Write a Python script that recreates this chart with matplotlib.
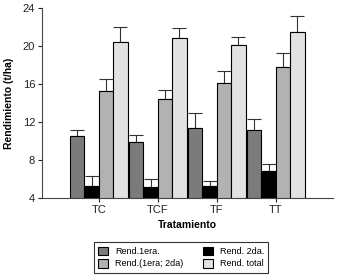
import matplotlib.pyplot as plt
import numpy as np

plt.rcParams['font.family'] = ['Liberation Sans', 'DejaVu Sans']

tratamientos = ['TC', 'TCF', 'TF', 'TT']
series = ['Rend.1era.', 'Rend. 2da.', 'Rend.(1era; 2da)', 'Rend. total']

rend_1era = [10.5, 9.9, 11.4, 11.2]
rend_2da = [5.3, 5.1, 5.3, 6.8]
rend_1y2 = [15.3, 14.4, 16.1, 17.8]
rend_total = [20.4, 20.8, 20.1, 21.5]

err_1era = [0.6, 0.7, 1.5, 1.1]
err_2da = [1.05, 0.85, 0.45, 0.8]
err_1y2 = [1.2, 1.0, 1.3, 1.45]
err_total = [1.6, 1.1, 0.8, 1.7]

colores = ['#7b7b7b', '#000000', '#b2b2b2', '#e2e2e2']

valores = [rend_1era, rend_2da, rend_1y2, rend_total]
errores = [err_1era, err_2da, err_1y2, err_total]

fig = plt.figure(figsize=(3.37, 2.76), dpi=100)
ax = fig.add_axes([0.125, 0.283, 0.863, 0.688])

x = np.arange(len(tratamientos))
w = 0.245
handles = []
for i in range(4):
    pos = x + (i - 1.5) * w
    b = ax.bar(pos, valores[i], width=w, bottom=0, color=colores[i],
               edgecolor='black', linewidth=0.8, zorder=2, label=series[i])
    ax.errorbar(pos, valores[i], yerr=[np.zeros(4), errores[i]], fmt='none',
                ecolor='#333333', elinewidth=0.8, capsize=5, capthick=0.8, zorder=1)
    handles.append(b)

ax.set_ylim(4, 24)
ax.set_xlim(-0.96, 3.97)
ax.set_yticks([4, 8, 12, 16, 20, 24])
ax.set_xticks(x)
ax.set_xticklabels(tratamientos)
ax.tick_params(axis='both', labelsize=8, colors='#222222', length=3, width=0.8, direction='out', pad=2)
for s in ['top', 'right']:
    ax.spines[s].set_visible(False)
for s in ['left', 'bottom']:
    ax.spines[s].set_color('#444444')
    ax.spines[s].set_linewidth(0.8)

ax.set_ylabel('Rendimiento (t/ha)', fontsize=7.5, fontweight='bold', labelpad=6)
ax.set_xlabel('Tratamiento', fontsize=7.5, fontweight='bold', labelpad=4)

order = [0, 2, 1, 3]
leg = fig.legend([handles[k] for k in order], [series[k] for k in order], ncol=2,
                 loc='center', bbox_to_anchor=(0.537, 0.067), fontsize=6.5,
                 frameon=True, fancybox=False, edgecolor='black',
                 handlelength=1.1, handleheight=1.1, handletextpad=0.8,
                 columnspacing=2.2, labelspacing=0.35, borderpad=0.45)
leg.get_frame().set_linewidth(0.8)

fig.savefig('out.png', dpi=100)
